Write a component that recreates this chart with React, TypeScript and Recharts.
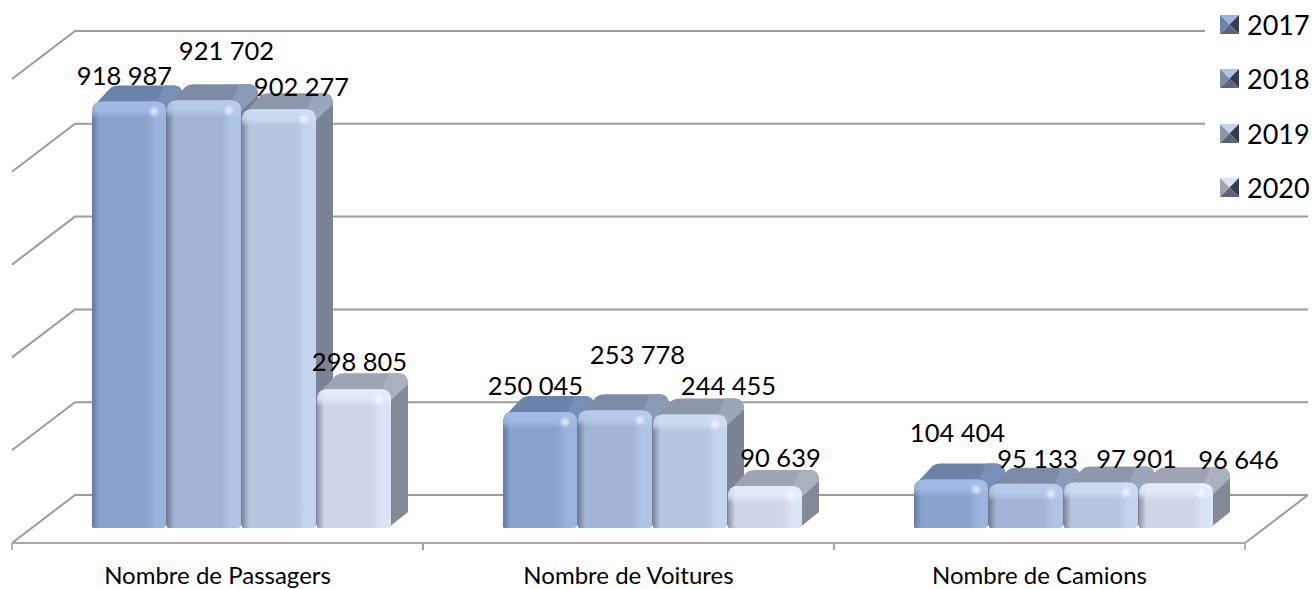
import React from "react";
import { BarChart, Bar, XAxis, YAxis, CartesianGrid, LabelList, Legend } from "recharts";

const categories = ["Nombre de Passagers", "Nombre de Voitures", "Nombre de Camions"];
const years = ["2017", "2018", "2019", "2020"];
const values2017 = [918987, 250045, 104404];
const values2018 = [921702, 253778, 95133];
const values2019 = [902277, 244455, 97901];
const values2020 = [298805, 90639, 96646];
const yTicks = [0, 200000, 400000, 600000, 800000, 1000000];

const rows = categories.map((category, i) => ({
  category,
  "2017": values2017[i],
  "2018": values2018[i],
  "2019": values2019[i],
  "2020": values2020[i],
}));

const FONT = "Lato, sans-serif";
const W = 1315;
const H = 589;
const FRONT_LEFT = 12;
const DEPTH_X = 17;
const DEPTH_Y = 16;

// [dx from bar centre, dy from bar top] for each data label, by series then category
const labelNudge: number[][][] = [
  [[-5, -27], [-5, -27], [6, -48]],
  [[22, -50], [22, -56], [11, -26]],
  [[22, -23], [38, -30], [35, -25]],
  [[5, -28], [15, -29], [62, -24]],
];

const styles = [
  { base: "#8aa3cd", dark: "#627a9f", light: "#9ab4de", bevel: "#a5c0ea", top: "#6b83a8", topEdge: "#7690b6", side: "#717d95" },
  { base: "#a2b5d7", dark: "#6f7d99", light: "#afc3e5", bevel: "#bacff0", top: "#7e8ba6", topEdge: "#8b9ab6", side: "#757f93" },
  { base: "#b7c5de", dark: "#7e8899", light: "#c4d4ee", bevel: "#d0dff6", top: "#8d97ab", topEdge: "#9aa6b9", side: "#7a8494" },
  { base: "#d0d6e9", dark: "#8e94a3", light: "#dbe4f6", bevel: "#e6effd", top: "#9ea4b3", topEdge: "#a9b1bf", side: "#828a97" },
];

const Bar3D = (props: any) => {
  const { x, y, width, height, s } = props;
  const st = styles[s];
  const r = 10;
  const w = width - 1;
  const x0 = x;
  const xr = x0 + w;
  const b = y + height;
  const rr = Math.min(r, height / 2);
  const front = `M${x0},${b - 1} L${x0},${y + rr} Q${x0},${y} ${x0 + rr},${y} L${xr - rr},${y} Q${xr},${y} ${xr},${y + rr} L${xr},${b - 4} Q${xr},${b} ${xr - 5},${b} L${x0 + 1},${b} Z`;
  const bevelH = Math.min(17, height / 2);
  const bx = xr + DEPTH_X;
  const by = y - DEPTH_Y;
  return (
    <g>
      <path
        d={`M${xr - 4},${y + 4} L${bx - 10},${by + 2} Q${bx},${by + 1} ${bx},${by + 11} L${bx},${b - DEPTH_Y} L${xr - 3},${b} Z`}
        fill={st.side}
      />
      <path
        d={`M${x0 + 3},${y + 3} L${x0 + DEPTH_X + 1},${by + 3} Q${x0 + DEPTH_X + 4},${by} ${x0 + DEPTH_X + 10},${by} L${bx - 9},${by} Q${bx},${by} ${bx},${by + 11} L${xr},${y + 10} Z`}
        fill={st.top}
      />
      <path
        d={`M${xr - 9},${y} L${bx - 19},${by} L${bx - 9},${by} Q${bx},${by} ${bx},${by + 11} L${xr},${y + 11} Q${xr},${y} ${xr - 9},${y} Z`}
        fill={st.topEdge}
      />
      <path d={front} fill={`url(#front${s})`} />
      <path
        d={`M${x0},${y + bevelH} L${x0},${y + rr} Q${x0},${y} ${x0 + rr},${y} L${xr - rr},${y} Q${xr},${y} ${xr},${y + rr} L${xr},${y + bevelH} Z`}
        fill={`url(#bevel${s})`}
      />
      <circle cx={xr - 12} cy={y + 10} r={6} fill="url(#spot)" />
    </g>
  );
};

const gridRenderer = (p: any) => {
  const yy = p.y1;
  const backY = yy - 33;
  const frontY = yy + 15;
  return (
    <polyline
      key={p.key}
      points={`${FRONT_LEFT},${frontY} ${FRONT_LEFT + 63},${backY} 1308,${backY}`}
      fill="none"
      stroke="#9c9c9c"
      strokeWidth={2}
    />
  );
};

const CategoryTick = (props: any) => {
  const { x, payload, index } = props;
  const cx = x - 23.5;
  const half = 205.5;
  return (
    <g>
      <line x1={cx - half} x2={cx + half} y1={543} y2={543} stroke="#a8a8a8" strokeWidth={2} />
      <line x1={cx - half} x2={cx - half} y1={543} y2={550} stroke="#9c9c9c" strokeWidth={1.5} />
      <line x1={cx + half} x2={cx + half} y1={543} y2={550} stroke="#9c9c9c" strokeWidth={1.5} />
      {index === categories.length - 1 && (
        <line x1={cx + half} x2={cx + half + 63} y1={543} y2={495} stroke="#9c9c9c" strokeWidth={2} />
      )}
      <text x={cx} y={584} textAnchor="middle" fontFamily={FONT} fontSize={24} fill="#000">
        {payload.value}
      </text>
    </g>
  );
};

const EmptyTick = () => <g />;

const fmt = (v: number) => String(v).replace(/\B(?=(\d{3})+$)/g, " ");

const makeLabel = (s: number) => (props: any) => {
  const { x, y, width, index, value } = props;
  const [dx, dy] = labelNudge[s][index];
  return (
    <text
      x={x + width / 2 + dx}
      y={y + dy}
      textAnchor="middle"
      dominantBaseline="central"
      fontFamily={FONT}
      fontSize={25.5}
      fill="#000"
    >
      {fmt(value)}
    </text>
  );
};

const LegendIcon = ({ s }: { s: number }) => {
  const st = styles[s];
  return (
    <svg width={19} height={19} style={{ display: "block" }}>
      <polygon points="0,0 19,0 9.5,9.5" fill={st.light} />
      <polygon points="0,0 9.5,9.5 0,19" fill={st.top} />
      <polygon points="19,0 19,19 9.5,9.5" fill="#333d4f" />
      <polygon points="0,19 19,19 9.5,9.5" fill="#5a6579" />
    </svg>
  );
};

const LegendBox = () => (
  <div style={{ position: "relative", width: 110, height: 210 }}>
    {years.map((yr, i) => (
      <div
        key={yr}
        style={{
          position: "absolute",
          left: 15,
          top: 24 + i * 54.6 - 15,
          height: 30,
          display: "flex",
          alignItems: "center",
          fontFamily: FONT,
          fontSize: 27,
          color: "#000",
        }}
      >
        <LegendIcon s={i} />
        <span style={{ marginLeft: 8 }}>{yr}</span>
      </div>
    ))}
  </div>
);

export default function App() {
  return (
    <div style={{ position: "absolute", left: 0, top: 0, width: W, height: H, background: "#fff", overflow: "hidden" }}>
      <BarChart
        width={W}
        height={H}
        data={rows}
        margin={{ top: 64, right: 46.5, bottom: 0, left: 0 }}
        barGap={0}
        barCategoryGap={56.5}
      >
        <defs>
          {styles.map((st, i) => (
            <React.Fragment key={i}>
              <linearGradient id={`front${i}`} x1="0" x2="1" y1="0" y2="0">
                <stop offset="0" stopColor={st.dark} />
                <stop offset="0.1" stopColor={st.base} />
                <stop offset="0.74" stopColor={st.base} />
                <stop offset="0.86" stopColor={st.light} />
                <stop offset="1" stopColor={st.light} />
              </linearGradient>
              <linearGradient id={`bevel${i}`} x1="0" x2="0" y1="0" y2="1">
                <stop offset="0" stopColor={st.bevel} stopOpacity={0.85} />
                <stop offset="0.55" stopColor={st.bevel} stopOpacity={0.75} />
                <stop offset="1" stopColor={st.bevel} stopOpacity={0} />
              </linearGradient>
            </React.Fragment>
          ))}
          <radialGradient id="spot">
            <stop offset="0" stopColor="#ffffff" stopOpacity={0.75} />
            <stop offset="1" stopColor="#ffffff" stopOpacity={0} />
          </radialGradient>
        </defs>
        <CartesianGrid vertical={false} horizontal={gridRenderer} />
        <XAxis dataKey="category" height={61} axisLine={false} tickLine={false} interval={0} tick={<CategoryTick />} />
        <YAxis width={35.5} domain={[0, 1000000]} ticks={yTicks} interval={0} axisLine={false} tickLine={false} tick={<EmptyTick />} />
        {years.map((yr, s) => (
          <Bar
            key={yr}
            dataKey={yr}
            name={yr}
            fill={styles[s].base}
            isAnimationActive={false}
            shape={(p: any) => <Bar3D {...p} s={s} />}
          >
            <LabelList dataKey={yr} content={makeLabel(s)} />
          </Bar>
        ))}
        <Legend
          layout="vertical"
          align="center"
          verticalAlign="middle"
          wrapperStyle={{ left: 1205, top: 0, width: 110, height: 210, background: "#fff" }}
          content={<LegendBox />}
        />
      </BarChart>
    </div>
  );
}
